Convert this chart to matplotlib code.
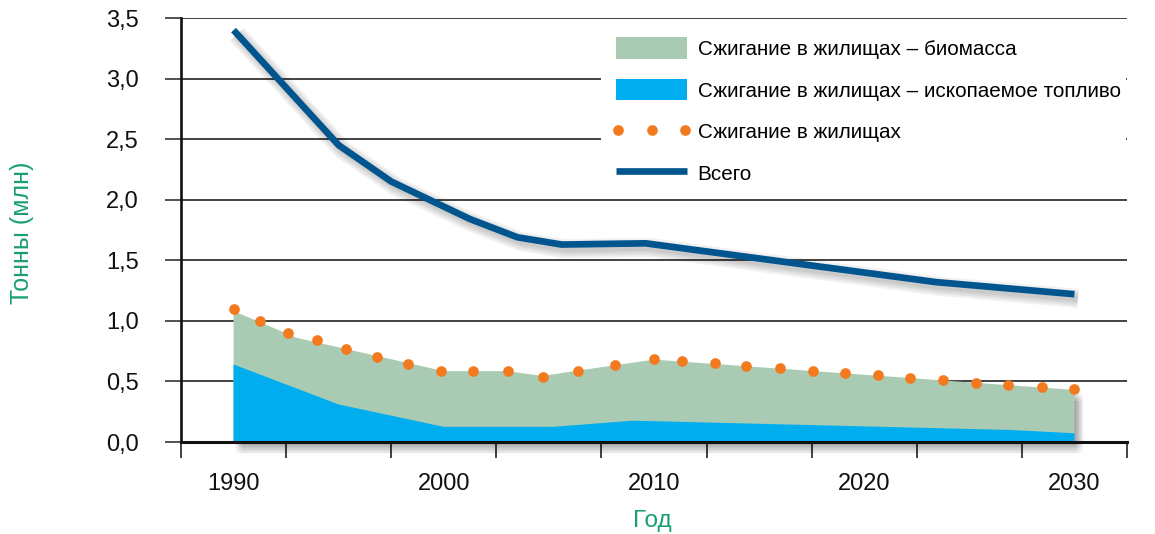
import matplotlib
matplotlib.use('Agg')
import matplotlib.pyplot as plt
from matplotlib import patheffects as pe
from matplotlib.patches import Patch, Rectangle
from matplotlib.lines import Line2D
from matplotlib.legend_handler import HandlerLine2D
from matplotlib.ticker import FixedLocator, FixedFormatter, NullFormatter

plt.rcParams['font.family'] = ['Liberation Sans', 'DejaVu Sans']

# ---------------- data ----------------
total_years = [1990, 1995, 1997.5, 2001.25, 2003.5, 2005.6, 2009.6, 2023.4, 2030]
total_vals = [3.40, 2.45, 2.15, 1.84, 1.69, 1.63, 1.64, 1.32, 1.22]

domestic_years = [1990, 1993, 2000, 2003, 2004.7, 2006.4, 2010, 2030]
domestic_vals = [1.08, 0.86, 0.585, 0.585, 0.545, 0.59, 0.68, 0.43]

fossil_years = [1990, 1995, 2000, 2005.2, 2009, 2027, 2030]
fossil_vals = [0.64, 0.31, 0.125, 0.125, 0.176, 0.099, 0.072]

dot_years = [1990.0, 1991.25, 1992.6, 1993.95, 1995.35, 1996.8, 1998.3, 1999.85,
             2001.4, 2003.05, 2004.7, 2006.4, 2008.15, 2010.0, 2011.35, 2012.9,
             2014.4, 2016.0, 2017.55, 2019.1, 2020.65, 2022.2, 2023.75, 2025.3,
             2026.85, 2028.45, 2030.0]
dot_vals = [1.10, 1.00, 0.90, 0.84, 0.77, 0.70, 0.645, 0.59,
            0.59, 0.59, 0.54, 0.59, 0.636, 0.685, 0.67, 0.65,
            0.63, 0.61, 0.59, 0.57, 0.55, 0.53, 0.51, 0.49,
            0.47, 0.455, 0.435]

y_ticks = [0.0, 0.5, 1.0, 1.5, 2.0, 2.5, 3.0, 3.5]
y_tick_labels = ['0,0', '0,5', '1,0', '1,5', '2,0', '2,5', '3,0', '3,5']
x_label_years = [1990, 2000, 2010, 2020, 2030]
x_tick_labels = ['1990', '2000', '2010', '2020', '2030']
x_tick_marks = [1987.5, 1992.5, 1997.5, 2002.5, 2007.5, 2012.5, 2017.5, 2022.5, 2027.5, 2032.5]

legend_labels = ['Сжигание в жилищах – биомасса',
                 'Сжигание в жилищах – ископаемое топливо',
                 'Сжигание в жилищах',
                 'Всего']
y_label = 'Тонны (млн)'
x_label = 'Год'

# ---------------- styles ----------------
c_bio = '#a9cbb3'
c_fossil = '#00aeef'
c_dot = '#f47a20'
c_total = '#00558f'
c_axlabel = '#1a9e73'
W, H = 1155, 534

fig = plt.figure(figsize=(W / 100, H / 100), dpi=100)
ax = fig.add_axes([181 / W, 1 - 442 / H, 946 / W, 424 / H])
ax.set_xlim(1987.5, 2032.5)
ax.set_ylim(0, 3.5)

for s in ('top', 'right'):
    ax.spines[s].set_visible(False)
ax.spines['left'].set_linewidth(1.9)
ax.spines['bottom'].set_linewidth(2.2)
ax.spines['left'].set_color('#111111')
ax.spines['bottom'].set_color('#111111')

ax.set_axisbelow(True)
ax.yaxis.set_major_locator(FixedLocator(y_ticks))
ax.yaxis.set_major_formatter(FixedFormatter(y_tick_labels))
ax.yaxis.grid(True, color='#222222', lw=1.2)
ax.tick_params(axis='y', direction='out', length=11.5, width=1.1, color='#222222',
               pad=19, labelsize=17, labelcolor='#111111')

ax.xaxis.set_major_locator(FixedLocator(x_label_years))
ax.xaxis.set_major_formatter(FixedFormatter(x_tick_labels))
ax.xaxis.set_minor_locator(FixedLocator(x_tick_marks))
ax.xaxis.set_minor_formatter(NullFormatter())
ax.tick_params(axis='x', which='major', length=0, pad=22, labelsize=17, labelcolor='#111111')
ax.tick_params(axis='x', which='minor', direction='out', length=11.5, width=1.2, color='#222222')

# white box behind legend
ax.add_patch(Rectangle((601 / W, 1 - 194 / H), (1126 - 601) / W, (194 - 24) / H,
                       transform=fig.transFigure, facecolor='white', edgecolor='none', zorder=1))

# soft shadows
patch_shadow = []
for dx in (1.5, 3.0, 4.5, 6.0):
    for dy in (-2.0, -4.0, -6.0, -8.0):
        patch_shadow.append(pe.SimplePatchShadow(offset=(dx, dy), shadow_rgbFace='black', alpha=0.022))
patch_shadow.append(pe.Normal())

lw_total = 4.8
line_shadow = [pe.SimpleLineShadow(offset=(2.5, -3.0), shadow_color='black', alpha=0.055,
                                   linewidth=lw_total + w) for w in (9, 6, 3, 0)]
line_shadow.append(pe.Normal())

ax.fill_between(domestic_years, 0, domestic_vals, facecolor=c_bio, edgecolor='none',
                zorder=2, clip_on=False, path_effects=patch_shadow)
ax.fill_between(fossil_years, 0, fossil_vals, facecolor=c_fossil, edgecolor='none', zorder=2.1)
ax.plot(dot_years, dot_vals, ls='none', marker='o', ms=7.7, mfc=c_dot, mec='none', zorder=3)
ax.plot(total_years, total_vals, color=c_total, lw=lw_total, solid_capstyle='butt',
        solid_joinstyle='miter', zorder=4, path_effects=line_shadow)

# legend
h_dots = Line2D([], [], ls='none', marker='o', ms=7.7, mfc=c_dot, mec='none')
handles = [Patch(facecolor=c_bio, edgecolor='none'),
           Patch(facecolor=c_fossil, edgecolor='none'),
           h_dots,
           Line2D([], [], color=c_total, lw=lw_total, solid_capstyle='butt')]
fig.legend(handles, legend_labels, loc='upper left', bbox_to_anchor=(616 / W, 1 - 37.5 / H),
           frameon=False, fontsize=14.9, handlelength=3.45, handleheight=1.2,
           handletextpad=0.5, labelspacing=0.97, borderpad=0, borderaxespad=0,
           handler_map={h_dots: HandlerLine2D(numpoints=3, marker_pad=0.1)})

fig.text(22.5 / W, 1 - 232.5 / H, y_label, rotation=90, ha='center', va='center',
         fontsize=18, color=c_axlabel)
fig.text(652 / W, 1 - 527 / H, x_label, ha='center', va='baseline',
         fontsize=17.5, color=c_axlabel)

fig.savefig('out.png', dpi=100)
